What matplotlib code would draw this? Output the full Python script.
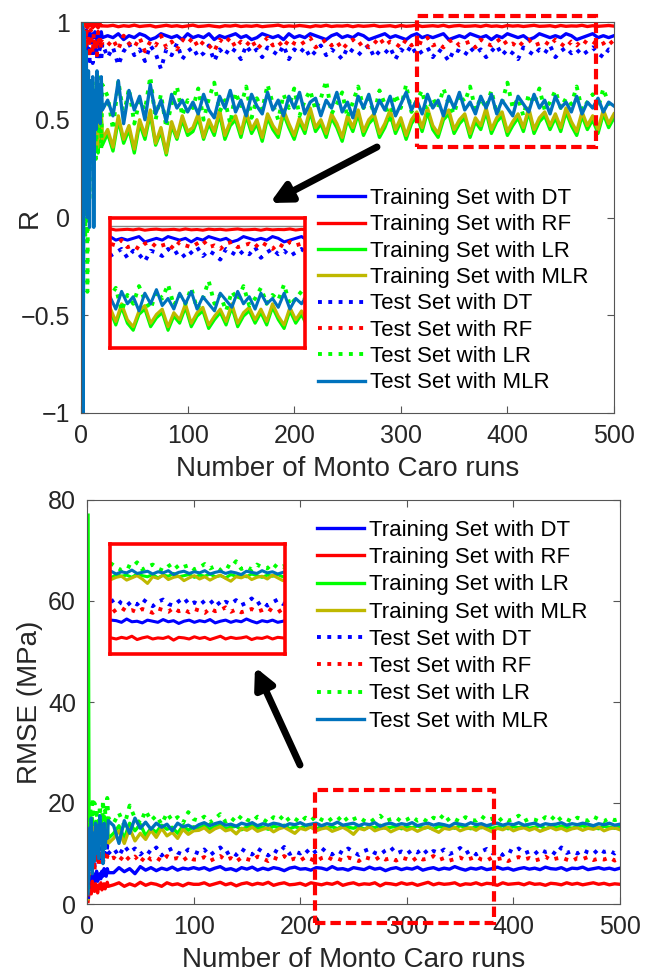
import matplotlib
matplotlib.use("Agg")
import matplotlib.pyplot as plt
import numpy as np
from matplotlib.patches import Rectangle, FancyArrowPatch

plt.rcParams["font.family"] = ["Liberation Sans", "DejaVu Sans"]

# Monte Carlo run index: every run up to 20, then every 5th run
runs = np.concatenate([np.arange(1, 21), np.arange(25, 501, 5)])

labels = [
    "Training Set with DT", "Training Set with RF", "Training Set with LR",
    "Training Set with MLR", "Test Set with DT", "Test Set with RF",
    "Test Set with LR", "Test Set with MLR",
]
colors = ["#0000ff", "#ff0000", "#00ff00", "#bfb800",
          "#0000ff", "#ff0000", "#00ff00", "#0072bd"]
styles = ["-", "-", "-", "-", ":", ":", ":", "-"]

r_ticks = [-1, -0.5, 0, 0.5, 1]
r_tick_labels = ["\u22121", "\u22120.5", "0", "0.5", "1"]
rmse_ticks = [0, 20, 40, 60, 80]
x_ticks = [0, 100, 200, 300, 400, 500]

# ---- R ----
r_train_dt = [
    1.00, 0.97, 0.95, 0.93, 0.96, 0.92, 0.94, 0.95, 0.91, 0.93, 0.94, 0.92, 0.95, 0.93, 0.91, 0.94, 0.92, 0.93, 0.95, 0.92,
    0.93, 0.92, 0.94, 0.91, 0.93, 0.92, 0.94, 0.93, 0.91, 0.92, 0.94, 0.93,
    0.92, 0.93, 0.91, 0.94, 0.92, 0.93, 0.92, 0.94, 0.91, 0.93, 0.92, 0.93,
    0.94, 0.92, 0.93, 0.91, 0.92, 0.94, 0.93, 0.92, 0.93, 0.91, 0.94, 0.92,
    0.93, 0.92, 0.94, 0.93, 0.92, 0.91, 0.93, 0.94, 0.92, 0.93, 0.92, 0.94,
    0.93, 0.91, 0.92, 0.93, 0.94, 0.92, 0.93, 0.92, 0.91, 0.93, 0.94, 0.92,
    0.93, 0.92, 0.93, 0.94, 0.91, 0.92, 0.93, 0.92, 0.94, 0.93, 0.92, 0.93,
    0.91, 0.93, 0.92, 0.94, 0.93, 0.92, 0.93, 0.91, 0.92, 0.94, 0.93, 0.92,
    0.93, 0.92, 0.94, 0.93, 0.91, 0.92, 0.93, 0.94, 0.92, 0.93, 0.92, 0.93,
]
r_train_rf = [
    1.00, 0.99, 1.00, 0.98, 0.99, 0.97, 0.99, 0.98, 0.99, 0.98, 0.97, 0.99, 0.98, 0.98, 0.99, 0.97, 0.98, 0.99, 0.98, 0.98,
    0.979, 0.983, 0.976, 0.981, 0.978, 0.984, 0.977, 0.980, 0.982, 0.975, 0.979, 0.983,
    0.978, 0.981, 0.976, 0.980, 0.984, 0.977, 0.979, 0.982, 0.978, 0.975, 0.981, 0.979,
    0.983, 0.977, 0.980, 0.978, 0.982, 0.976, 0.979, 0.981, 0.984, 0.977, 0.980, 0.978,
    0.982, 0.979, 0.975, 0.981, 0.978, 0.983, 0.977, 0.980, 0.979, 0.982, 0.976, 0.981,
    0.978, 0.980, 0.983, 0.977, 0.979, 0.981, 0.976, 0.982, 0.978, 0.980, 0.984, 0.977,
    0.979, 0.981, 0.978, 0.983, 0.976, 0.980, 0.982, 0.978, 0.979, 0.981, 0.977, 0.983,
    0.978, 0.980, 0.976, 0.982, 0.979, 0.981, 0.977, 0.980, 0.983, 0.978, 0.979, 0.981,
    0.976, 0.982, 0.978, 0.980, 0.979, 0.983, 0.977, 0.981, 0.978, 0.980, 0.982, 0.979,
]
r_train_lr = [
    1.00, 0.93, 0.78, 0.66, 0.58, 0.50, 0.42, 0.60, 0.37, 0.52, 0.45, 0.34, 0.50, 0.41, 0.55, 0.33, 0.47, 0.40, 0.52, 0.37,
    0.43, 0.34, 0.50, 0.38, 0.45, 0.33, 0.48, 0.40, 0.53, 0.37, 0.44, 0.32, 0.47, 0.40, 0.50, 0.42,
    0.44, 0.51, 0.40, 0.48, 0.42, 0.53, 0.40, 0.47, 0.50, 0.41, 0.52, 0.43,
    0.48, 0.39, 0.51, 0.45, 0.41, 0.53, 0.46, 0.40, 0.49, 0.43, 0.54, 0.44,
    0.48, 0.41, 0.51, 0.46, 0.39, 0.50, 0.44, 0.53, 0.42, 0.48, 0.51, 0.41,
    0.46, 0.53, 0.43, 0.49, 0.40, 0.48, 0.52, 0.44, 0.54, 0.45, 0.41, 0.50,
    0.53, 0.43, 0.48, 0.51, 0.41, 0.49, 0.45, 0.54, 0.43, 0.49, 0.52, 0.42,
    0.47, 0.51, 0.44, 0.54, 0.43, 0.49, 0.52, 0.45,
    0.51, 0.44, 0.54, 0.47, 0.42, 0.52, 0.45, 0.50, 0.43, 0.53, 0.46, 0.51,
]
r_train_mlr = [
    1.00, 0.95, 0.80, 0.70, 0.60, 0.55, 0.45, 0.62, 0.40, 0.55, 0.48, 0.38, 0.52, 0.44, 0.58, 0.36, 0.50, 0.42, 0.55, 0.40,
    0.45, 0.36, 0.52, 0.40, 0.47, 0.35, 0.50, 0.42, 0.55, 0.38, 0.46, 0.33, 0.49, 0.41, 0.52, 0.44,
    0.46, 0.53, 0.41, 0.50, 0.44, 0.55, 0.42, 0.49, 0.52, 0.43, 0.54, 0.45,
    0.50, 0.41, 0.53, 0.47, 0.43, 0.55, 0.48, 0.42, 0.51, 0.45, 0.56, 0.46,
    0.50, 0.43, 0.53, 0.48, 0.41, 0.52, 0.46, 0.55, 0.44, 0.50, 0.53, 0.43,
    0.48, 0.55, 0.45, 0.51, 0.42, 0.50, 0.54, 0.46, 0.56, 0.47, 0.43, 0.52,
    0.55, 0.45, 0.50, 0.53, 0.43, 0.51, 0.47, 0.56, 0.45, 0.51, 0.54, 0.44,
    0.49, 0.53, 0.46, 0.56, 0.45, 0.51, 0.54, 0.47,
    0.53, 0.46, 0.56, 0.49, 0.44, 0.54, 0.47, 0.52, 0.45, 0.55, 0.48, 0.53,
]
r_test_dt = [
    0.98, 0.80, 0.92, 0.78, 0.90, 0.84, 0.88, 0.80, 0.93, 0.86, 0.79, 0.90, 0.83, 0.88, 0.81, 0.91, 0.85, 0.87, 0.80, 0.89,
    0.82, 0.87, 0.78, 0.85, 0.89, 0.83, 0.86, 0.80, 0.88, 0.84, 0.76, 0.86,
    0.83, 0.89, 0.81, 0.85, 0.87, 0.82, 0.84, 0.88, 0.80, 0.86, 0.83, 0.87,
    0.85, 0.81, 0.88, 0.84, 0.86, 0.82, 0.87, 0.85, 0.83, 0.88, 0.81, 0.86,
    0.84, 0.87, 0.82, 0.85, 0.88, 0.83, 0.86, 0.84, 0.81, 0.87, 0.85, 0.83,
    0.86, 0.88, 0.82, 0.85, 0.84, 0.87, 0.81, 0.86, 0.84, 0.88, 0.83, 0.85,
    0.87, 0.82, 0.86, 0.84, 0.80, 0.86, 0.85, 0.83, 0.87, 0.84, 0.86, 0.82,
    0.85, 0.88, 0.83, 0.86, 0.84, 0.81, 0.87, 0.85, 0.83, 0.86, 0.84, 0.88,
    0.82, 0.85, 0.87, 0.84, 0.86, 0.83, 0.85, 0.87, 0.84, 0.82, 0.86, 0.85,
]
r_test_rf = [
    1.00, 0.85, 0.95, 0.80, 0.97, 0.88, 0.93, 0.82, 0.96, 0.90, 0.84, 0.94, 0.87, 0.91, 0.83, 0.95, 0.88, 0.92, 0.86, 0.90,
    0.88, 0.91, 0.86, 0.93, 0.89, 0.87, 0.92, 0.85, 0.90, 0.88, 0.93, 0.87,
    0.90, 0.86, 0.91, 0.89, 0.92, 0.87, 0.90, 0.88, 0.85, 0.91, 0.89, 0.92,
    0.87, 0.90, 0.88, 0.91, 0.86, 0.89, 0.92, 0.88, 0.90, 0.87, 0.91, 0.89,
    0.88, 0.90, 0.92, 0.87, 0.89, 0.91, 0.88, 0.90, 0.86, 0.89, 0.91, 0.88,
    0.90, 0.87, 0.89, 0.92, 0.88, 0.90, 0.89, 0.87, 0.91, 0.88, 0.90, 0.89,
    0.92, 0.88, 0.89, 0.87, 0.90, 0.91, 0.88, 0.89, 0.90, 0.87, 0.91, 0.89,
    0.88, 0.90, 0.92, 0.88, 0.89, 0.87, 0.90, 0.91, 0.88, 0.89, 0.90, 0.88,
    0.91, 0.89, 0.87, 0.90, 0.88, 0.91, 0.89, 0.90, 0.88, 0.89, 0.91, 0.88,
]
r_test_lr = [
    1.00, 0.20, 0.90, -0.10, 0.70, -0.38, 0.50, 0.10, 0.60, 0.28, 0.70, 0.45, 0.65, 0.30, 0.55, 0.72, 0.42, 0.60, 0.35, 0.68,
    0.62, 0.45, 0.70, 0.52, 0.66, 0.48, 0.60, 0.55, 0.72, 0.50, 0.63, 0.46, 0.58, 0.67, 0.52, 0.60,
    0.56, 0.66, 0.50, 0.61, 0.69, 0.54, 0.60, 0.48, 0.64, 0.57, 0.67, 0.51,
    0.61, 0.55, 0.68, 0.58, 0.50, 0.63, 0.56, 0.66, 0.52, 0.60, 0.65, 0.55,
    0.61, 0.70, 0.53, 0.58, 0.64, 0.51, 0.59, 0.67, 0.56, 0.61, 0.53, 0.65,
    0.58, 0.50, 0.63, 0.56, 0.68, 0.54, 0.60, 0.65, 0.52, 0.61, 0.56, 0.66,
    0.58, 0.53, 0.63, 0.59, 0.67, 0.55, 0.61, 0.56, 0.65, 0.53, 0.59, 0.69,
    0.56, 0.61, 0.52, 0.63, 0.58, 0.66, 0.55, 0.59, 0.65, 0.56, 0.61, 0.58,
    0.67, 0.55, 0.59, 0.63, 0.56, 0.66, 0.58, 0.61,
]
r_test_mlr = [
    1.00, -1.00, 0.95, 0.05, 0.85, 0.00, 0.75, -0.05, 0.70, 0.35, 0.72, -0.05, 0.65, 0.45, 0.75, 0.50, 0.68, 0.48, 0.72, 0.55,
    0.60, 0.52, 0.70, 0.48, 0.65, 0.55, 0.62, 0.50, 0.68, 0.53, 0.60, 0.49, 0.63, 0.56, 0.60, 0.54,
    0.59, 0.53, 0.63, 0.55, 0.51, 0.62, 0.56, 0.65, 0.54, 0.60, 0.52, 0.63,
    0.57, 0.53, 0.64, 0.55, 0.60, 0.52, 0.62, 0.56, 0.64, 0.53, 0.59, 0.61,
    0.52, 0.60, 0.56, 0.64, 0.54, 0.59, 0.51, 0.62, 0.56, 0.63, 0.53, 0.60,
    0.55, 0.62, 0.52, 0.58, 0.64, 0.55, 0.60, 0.53, 0.63, 0.56, 0.60, 0.52,
    0.62, 0.56, 0.64, 0.55, 0.59, 0.53, 0.62, 0.56, 0.63, 0.53, 0.60, 0.56,
    0.52, 0.62, 0.58, 0.54, 0.63, 0.56, 0.60, 0.53, 0.62, 0.56, 0.59, 0.54,
    0.62, 0.53, 0.59, 0.56, 0.61, 0.54, 0.59, 0.57,
]

# ---- RMSE (MPa) ----
rmse_train_dt = [
    1.0, 5.0, 4.0, 5.5, 4.5, 6.0, 4.0, 5.0, 6.5, 4.5, 5.5, 6.0, 5.0, 6.5, 5.5, 7.0, 6.0, 5.5, 7.0, 6.2,
    6.2, 7.2, 6.4, 7.0, 6.0, 7.4, 6.7, 7.2, 6.6, 7.1, 6.8, 7.3, 6.7, 7.1, 6.9, 7.2,
    6.9, 7.2, 6.7, 7.1, 7.4, 6.8, 7.0, 6.6, 7.2, 6.9, 7.3, 6.7,
    7.1, 6.8, 7.2, 7.0, 6.6, 7.1, 7.3, 6.9, 7.0, 6.7, 7.2, 7.1,
    6.8, 7.4, 6.9, 7.0, 6.7, 7.2, 7.0, 6.8, 7.3, 6.9, 7.1, 6.6,
    7.0, 7.2, 6.8, 7.1, 6.9, 7.3, 6.7, 7.0, 7.2, 6.8, 7.1, 6.9,
    7.4, 7.0, 6.7, 7.1, 6.9, 7.2, 6.8, 7.0, 7.3, 6.9, 7.1, 6.7,
    7.0, 7.2, 6.9, 7.1, 6.8, 7.3, 7.0, 6.9, 7.2, 6.7, 7.1, 7.0,
    7.3, 6.8, 7.0, 7.2, 6.9, 7.1, 6.8, 7.1,
]
rmse_train_rf = [
    0.5, 2.5, 3.5, 2.0, 4.5, 3.0, 2.5, 4.0, 3.0, 2.2, 3.8, 3.2, 4.2, 2.8, 3.6, 4.0, 3.0, 3.7, 4.3, 3.5,
    3.8, 4.2, 3.5, 4.0, 3.6, 4.3, 3.7, 4.1, 3.9, 3.5, 4.2, 3.8, 4.0, 3.6, 4.1, 3.9,
    3.9, 4.2, 3.7, 4.0, 4.3, 3.8, 4.1, 3.6, 4.0, 4.2, 3.8, 4.1,
    3.9, 4.3, 3.7, 4.0, 4.2, 3.8, 3.9, 4.1, 3.7, 4.2, 4.0, 3.8,
    4.1, 3.9, 4.3, 3.7, 4.0, 4.2, 3.8, 4.0, 3.9, 4.2, 3.6, 4.1,
    4.0, 3.8, 4.2, 3.9, 4.1, 3.7, 4.0, 4.3, 3.8, 4.1, 3.9, 4.0,
    4.2, 3.7, 4.0, 3.9, 4.2, 3.8, 4.1, 4.0, 3.7, 4.2, 3.9, 4.0,
    4.1, 3.8, 4.2, 3.9, 4.0, 3.7, 4.1, 4.0, 3.8, 4.2, 3.9, 4.1,
    3.8, 4.0, 4.2, 3.9, 4.1, 3.8, 4.0, 3.9,
]
rmse_train_lr = [
    77.0, 11.0, 16.5, 13.0, 17.0, 12.5, 15.5, 14.0, 16.0, 12.0, 15.0, 13.5, 16.5, 14.0, 15.0, 12.5, 16.0, 14.5, 15.5, 13.0,
    14.0, 15.5, 13.0, 16.0, 14.5, 15.8, 13.5, 15.0, 14.2, 15.6, 14.8, 15.2, 14.0, 15.5, 14.6, 15.3,
    15.0, 15.5, 14.8, 15.3, 15.6, 14.9, 15.2, 15.4, 14.7, 15.3, 15.5, 15.0,
    15.2, 14.8, 15.4, 15.1, 15.6, 14.9, 15.3, 15.0, 15.5, 15.2, 14.8, 15.4,
    15.1, 15.3, 14.9, 15.5, 15.2, 15.0, 15.4, 14.8, 15.3, 15.1, 15.6, 15.0,
    15.2, 15.4, 14.9, 15.3, 15.1, 15.5, 15.0, 15.2, 14.8, 15.4, 15.1, 15.3,
    15.0, 15.5, 15.2, 14.9, 15.3, 15.1, 15.4, 15.0, 15.2, 15.5, 14.9, 15.3,
    15.1, 15.4, 15.0, 15.2, 15.5, 14.9, 15.3, 15.1, 15.4, 15.2, 15.0, 15.3,
    15.5, 15.1, 15.2, 14.9, 15.4, 15.2, 15.0, 15.3,
]
rmse_train_mlr = [
    1.0, 12.0, 16.0, 13.0, 15.5, 11.5, 14.5, 13.0, 15.0, 11.0, 14.0, 12.5, 15.5, 13.0, 14.0, 11.5, 15.0, 13.5, 14.5, 12.0,
    13.0, 14.5, 12.0, 15.0, 12.5, 14.0, 12.8, 14.6, 13.2, 15.0, 13.5, 14.2, 13.0, 14.8, 13.8, 14.5,
    14.6, 15.1, 14.2, 14.9, 15.3, 14.5, 14.8, 13.9, 15.0, 14.6, 15.2, 14.4,
    14.8, 15.1, 14.3, 14.9, 15.2, 14.6, 14.0, 15.0, 14.7, 15.3, 14.5, 14.9,
    15.1, 14.4, 14.8, 15.2, 14.6, 13.8, 15.0, 14.7, 15.3, 14.5, 14.9, 15.1,
    14.3, 14.8, 15.2, 14.6, 15.0, 14.4, 14.9, 15.3, 14.7, 14.2, 15.0, 14.8,
    15.2, 14.5, 14.9, 15.1, 14.6, 15.3, 14.8, 14.3, 15.0, 14.7, 15.2, 14.5,
    14.9, 15.1, 14.6, 15.0, 14.4, 14.8, 15.2, 14.7, 15.0, 14.5, 14.9, 15.1,
    14.6, 15.0, 14.8, 15.2, 14.5, 14.9, 15.1, 14.7,
]
rmse_test_dt = [
    1.0, 11.0, 8.0, 12.0, 9.0, 10.5, 7.5, 11.5, 9.5, 12.0, 8.5, 10.5, 11.0, 9.0, 12.5, 10.0, 11.0, 9.5, 11.5, 10.0,
    11.0, 9.5, 11.5, 10.2, 11.0, 9.8, 10.8, 10.0, 11.2, 9.6, 10.5, 11.0, 10.2, 9.8, 10.8, 10.4,
    10.0, 10.8, 9.6, 10.4, 11.2, 9.9, 10.5, 9.7, 10.9, 10.2, 9.8, 11.0,
    10.3, 9.6, 10.7, 10.1, 11.3, 9.9, 10.4, 10.0, 10.8, 9.7, 10.5, 11.1,
    10.2, 9.8, 10.6, 10.0, 11.0, 10.3, 9.7, 10.5, 10.9, 10.1, 9.8, 10.6,
    11.2, 10.0, 10.4, 9.9, 10.7, 10.2, 11.0, 9.8, 10.5, 10.1, 10.8, 9.9,
    10.3, 11.1, 10.0, 10.6, 9.8, 10.4, 10.9, 10.1, 10.5, 9.7, 10.7, 10.2,
    11.0, 10.0, 10.4, 9.9, 10.8, 10.3, 10.6, 9.8, 11.2, 10.1, 10.5, 10.0,
    10.7, 10.2, 9.9, 10.9, 10.3, 10.6, 10.0, 10.8,
]
rmse_test_rf = [
    1.5, 9.5, 7.0, 10.0, 8.0, 9.5, 6.5, 10.5, 8.5, 9.0, 7.5, 10.0, 8.5, 9.5, 8.0, 10.0, 9.0, 8.5, 9.5, 8.8,
    9.2, 8.4, 9.8, 8.7, 9.4, 8.2, 9.6, 8.8, 9.2, 8.5, 9.5, 8.9, 9.1, 8.6, 9.4, 8.8,
    8.8, 9.3, 8.5, 9.0, 9.5, 8.7, 9.1, 8.4, 9.2, 8.9, 8.6, 9.4,
    9.0, 8.5, 9.2, 8.8, 9.5, 8.7, 9.0, 8.6, 9.3, 8.9, 8.4, 9.1,
    9.4, 8.8, 9.0, 8.6, 9.2, 8.9, 8.5, 9.3, 9.0, 8.7, 9.4, 8.8,
    9.1, 8.6, 9.2, 8.9, 8.5, 9.3, 8.8, 9.0, 9.5, 8.7, 9.1, 8.6,
    8.9, 9.2, 8.7, 9.0, 9.4, 8.8, 8.6, 9.2, 8.9, 9.1, 8.5, 9.0,
    9.3, 8.8, 9.1, 8.6, 8.9, 9.4, 8.7, 9.0, 9.2, 8.8, 8.5, 9.1,
    8.9, 9.3, 8.7, 9.0, 8.8, 9.2, 8.6, 9.0,
]
rmse_test_lr = [
    3.0, 14.0, 19.0, 16.0, 21.0, 15.0, 20.0, 12.0, 18.0, 16.5, 14.0, 19.5, 17.0, 15.0, 20.5, 16.0, 18.5, 14.5, 21.0, 17.0,
    16.0, 18.0, 15.5, 19.5, 17.0, 16.0, 18.5, 16.5, 17.5, 15.8, 18.0, 16.5, 17.2, 16.0, 18.2, 16.8,
    16.5, 17.3, 16.1, 16.9, 17.8, 16.3, 17.1, 16.2, 17.5, 16.7, 16.3, 17.3,
    16.8, 16.1, 17.2, 16.6, 17.7, 16.4, 16.9, 16.2, 17.1, 16.5, 17.4, 16.7,
    16.2, 17.0, 16.6, 17.6, 16.3, 16.8, 17.2, 16.5, 16.1, 16.9, 17.5, 16.4,
    16.8, 17.1, 16.3, 16.7, 17.3, 16.5, 16.9, 16.2, 17.1, 16.6, 17.8, 16.4,
    16.8, 16.3, 17.2, 16.7, 16.5, 17.4, 16.6, 16.9, 16.2, 17.1, 16.5, 16.8,
    17.5, 16.4, 16.9, 16.7, 16.3, 17.2, 16.6, 17.7, 16.5, 16.8, 16.3, 17.1,
    16.7, 16.5, 17.3, 16.8, 16.4, 17.0, 16.6, 16.9,
]
rmse_test_mlr = [
    2.0, 15.0, 7.0, 17.0, 6.0, 14.0, 8.5, 16.0, 10.0, 15.5, 9.0, 17.5, 12.0, 15.0, 8.0, 16.0, 11.0, 14.5, 13.0, 16.5,
    15.5, 12.0, 16.5, 14.0, 17.0, 15.0, 16.2, 14.8, 16.0, 15.2, 15.8, 14.5, 16.0, 15.3, 15.6, 15.0,
    15.7, 16.1, 15.5, 15.9, 16.2, 15.6, 15.8, 15.4, 16.0, 15.7, 16.1, 15.5,
    15.9, 15.6, 16.0, 15.8, 15.4, 15.9, 15.7, 16.1, 15.6, 15.8, 16.0, 15.5,
    15.9, 15.7, 16.2, 15.6, 15.8, 16.0, 15.5, 15.9, 15.7, 16.1, 15.4, 15.8,
    16.0, 15.6, 15.9, 15.7, 16.1, 15.5, 15.8, 16.0, 15.6, 15.9, 15.7, 15.4,
    16.0, 15.8, 15.6, 16.1, 15.7, 15.9, 15.5, 15.8, 16.0, 15.6, 15.9, 15.7,
    16.1, 15.6, 15.8, 16.0, 15.5, 15.9, 15.7, 15.8, 16.1, 15.6, 15.9, 15.7,
    16.0, 15.8, 15.5, 15.9, 15.7, 16.0, 15.6, 15.8,
]

r_series = [r_train_dt, r_train_rf, r_train_lr, r_train_mlr,
            r_test_dt, r_test_rf, r_test_lr, r_test_mlr]
rmse_series = [rmse_train_dt, rmse_train_rf, rmse_train_lr, rmse_train_mlr,
               rmse_test_dt, rmse_test_rf, rmse_test_lr, rmse_test_mlr]

TEXT = "#262626"
FW, FH = 645, 974


def fig_box(left, top, right, bottom):
    # pixel box -> figure fraction [l, b, w, h]
    return [left / FW, 1 - bottom / FH, (right - left) / FW, (bottom - top) / FH]


def draw_series(ax, series, lw=2.4):
    lines = []
    for vals, c, ls, lab in zip(series, colors, styles, labels):
        width = 2.8 if ls == ":" else lw
        (ln,) = ax.plot(runs, vals, color=c, linestyle=ls, lw=width, label=lab)
        lines.append(ln)
    return lines


def style_axes(ax):
    for s in ax.spines.values():
        s.set_color("#555555")
        s.set_linewidth(0.8)
    ax.tick_params(direction="in", top=True, right=True, length=5, pad=8,
                   labelsize=18, colors=TEXT, width=0.8)
    ax.tick_params(axis="both", color="#555555")


def make_inset(fig, box, series, xlim, ylim):
    ins = fig.add_axes(fig_box(*box))
    draw_series(ins, series, lw=2.2)
    ins.set_xlim(*xlim)
    ins.set_ylim(*ylim)
    ins.set_xticks([])
    ins.set_yticks([])
    for s in ins.spines.values():
        s.set_color("#ff0000")
        s.set_linewidth(2.6)
    return ins


def add_arrow(fig, tail, head):
    arr = FancyArrowPatch(
        (tail[0] / FW, 1 - tail[1] / FH), (head[0] / FW, 1 - head[1] / FH),
        transform=fig.transFigure, arrowstyle="-|>", mutation_scale=30,
        lw=5, color="black", shrinkA=0, shrinkB=0,
    )
    fig.add_artist(arr)


fig = plt.figure(figsize=(FW / 100, FH / 100), dpi=100)

# top panel: R
ax1 = fig.add_axes(fig_box(81, 22, 614, 413))
lines = draw_series(ax1, r_series)
ax1.set_xlim(0, 500)
ax1.set_ylim(-1, 1)
ax1.set_xticks(x_ticks)
ax1.set_yticks(r_ticks)
ax1.set_yticklabels(r_tick_labels)
ax1.set_xlabel("Number of Monto Caro runs", fontsize=20, color=TEXT, labelpad=6)
ax1.set_ylabel("R", fontsize=20, color=TEXT)
ax1.yaxis.set_label_coords(-0.071, 0.5)
style_axes(ax1)
ax1.add_patch(Rectangle((315, 0.36), 168, 0.67, fill=False, edgecolor="#ff0000",
                        lw=3, linestyle=(0, (2.5, 1.2)), clip_on=False, zorder=5))
ax1.legend(handles=lines, loc="upper left", bbox_to_anchor=(318 / FW, 1 - 188 / FH),
           bbox_transform=fig.transFigure, frameon=False, fontsize=16,
           handlelength=2.1, handletextpad=0.25, labelspacing=0.24,
           borderpad=0, borderaxespad=0)

ins1 = make_inset(fig, (110, 218, 305, 348), r_series, (315, 483), (0.31, 1.045))
ins1.axhline(1, color="#888888", lw=1, zorder=0)
add_arrow(fig, (377, 147), (270, 203))

# bottom panel: RMSE
ax2 = fig.add_axes(fig_box(87, 500, 620, 904))
lines = draw_series(ax2, rmse_series)
ax2.set_xlim(0, 500)
ax2.set_ylim(0, 80)
ax2.set_xticks(x_ticks)
ax2.set_yticks(rmse_ticks)
ax2.set_xlabel("Number of Monto Caro runs", fontsize=20, color=TEXT, labelpad=6)
ax2.set_ylabel("RMSE (MPa)", fontsize=20, color=TEXT)
ax2.yaxis.set_label_coords(-0.083, 0.5)
style_axes(ax2)
ax2.add_patch(Rectangle((214, -3.8), 168, 26.4, fill=False, edgecolor="#ff0000",
                        lw=3, linestyle=(0, (2.5, 1.2)), clip_on=False, zorder=5))
ax2.legend(handles=lines, loc="upper left", bbox_to_anchor=(317 / FW, 1 - 520 / FH),
           bbox_transform=fig.transFigure, frameon=False, fontsize=16,
           handlelength=2.1, handletextpad=0.25, labelspacing=0.28,
           borderpad=0, borderaxespad=0)

make_inset(fig, (110, 544, 285, 654), rmse_series, (214, 382), (1.1, 20.9))
add_arrow(fig, (300, 765), (255, 667))

fig.savefig("out.png", dpi=100)
